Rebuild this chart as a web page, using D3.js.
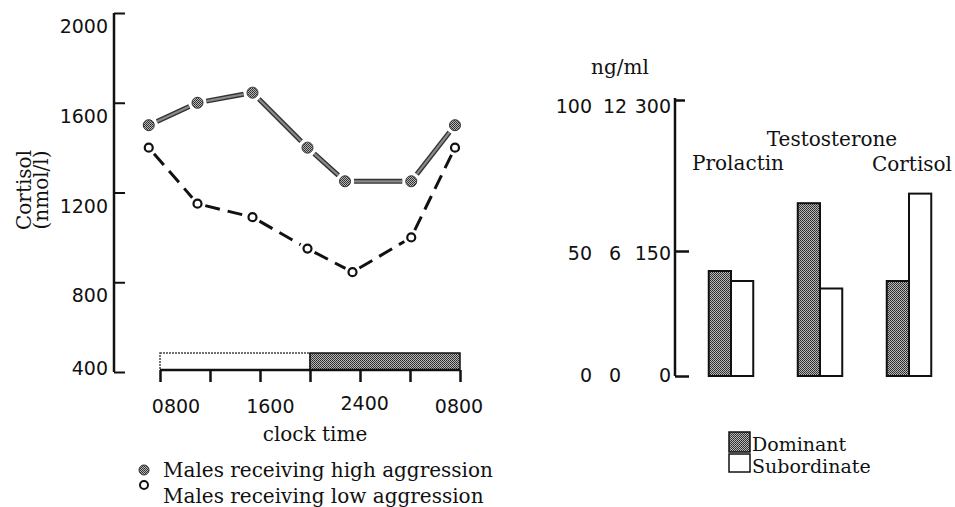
<!DOCTYPE html>
<html lang="en">
<head>
<meta charset="UTF-8">
<title>Cortisol rhythm and hormone levels</title>
<script src="https://cdn.jsdelivr.net/npm/d3@7"></script>
<style>
  body { margin: 0; background: #fff; }
  .serif { font-family: "DejaVu Serif", serif; font-size: 20px; fill: #111; }
  .num { font-family: "DejaVu Sans", sans-serif; font-size: 19px; fill: #111; }
</style>
</head>
<body>
<svg id="chart" width="955" height="507"></svg>
<script>
// left panel: cortisol over the day
const highHours = [7.1, 11, 15.4, 19.8, 22.8, 28.1, 31.6];
const lowHours = [7.1, 11, 15.4, 19.8, 23.4, 28.1, 31.6];
const cortisolHigh = [1500, 1600, 1645, 1400, 1250, 1250, 1500];
const cortisolLow = [1400, 1150, 1090, 950, 845, 1000, 1400];
const cortisolTicks = [400, 800, 1200, 1600, 2000];
const clockTicks = [8, 12, 16, 20, 24, 28, 32];
const clockLabelHours = [8, 16, 24, 32];
const clockLabels = ["0800", "1600", "2400", "0800"];
const lightPeriod = [8, 20];
const darkPeriod = [20, 32];
const seriesNames = ["Males receiving high aggression", "Males receiving low aggression"];

// right panel: hormone levels by status
const hormones = ["Prolactin", "Testosterone", "Cortisol"];
const hormoneMax = [100, 12, 300];
const dominant = [42, 7.9, 114];
const subordinate = [38, 4.2, 207];
const statusNames = ["Dominant", "Subordinate"];
const hormoneTicks = [[0, 50, 100], [0, 6, 12], [0, 150, 300]];

const svg = d3.select("#chart");
const defs = svg.append("defs");

const pat = defs.append("pattern")
  .attr("id", "stipple")
  .attr("patternUnits", "userSpaceOnUse")
  .attr("width", 2).attr("height", 2);
pat.append("rect").attr("width", 2).attr("height", 2).attr("fill", "#b8b8b8");
pat.append("rect").attr("width", 1).attr("height", 1).attr("fill", "#2a2a2a");
pat.append("rect").attr("x", 1).attr("y", 1).attr("width", 1).attr("height", 1).attr("fill", "#3a3a3a");

// ---------- left panel ----------
const x = d3.scaleLinear().domain([8, 32]).range([160, 460]);
const xLab = d3.scaleLinear().domain([8, 32]).range([176, 459]);
const y = d3.scaleLinear().domain([400, 2000]).range([372, 13]);

const yAxis = d3.axisRight(y).tickValues(cortisolTicks).tickSize(11).tickFormat("");
const gy = svg.append("g").attr("transform", "translate(114,0)").call(yAxis);
gy.select(".domain").attr("d", "M0," + y(2000) + "V" + y(400)).attr("stroke", "#111").attr("stroke-width", 2.5);
gy.selectAll(".tick line").attr("stroke", "#111").attr("stroke-width", 2);

svg.append("g").selectAll("text")
  .data(cortisolTicks)
  .join("text")
  .attr("class", "num")
  .attr("x", 108)
  .attr("y", d => y(d) + (d === 400 ? 3 : 20))
  .attr("text-anchor", "end")
  .text(d => d);

svg.append("text").attr("class", "serif")
  .attr("transform", "translate(31,190) rotate(-90)")
  .attr("text-anchor", "middle")
  .text("Cortisol");
svg.append("text").attr("class", "serif")
  .attr("transform", "translate(48,190) rotate(-90)")
  .attr("text-anchor", "middle")
  .text("(nmol/l)");

// light / dark bar
svg.append("rect")
  .attr("x", x(lightPeriod[0])).attr("y", 353)
  .attr("width", x(lightPeriod[1]) - x(lightPeriod[0])).attr("height", 17)
  .attr("fill", "#fff").attr("stroke", "#444").attr("stroke-width", 1.5)
  .attr("stroke-dasharray", "2 1");
svg.append("rect")
  .attr("x", x(darkPeriod[0])).attr("y", 353)
  .attr("width", x(darkPeriod[1]) - x(darkPeriod[0])).attr("height", 17)
  .attr("fill", "url(#stipple)").attr("stroke", "#111").attr("stroke-width", 1.5);

const xAxis = d3.axisBottom(x).tickValues(clockTicks).tickSize(12).tickFormat("");
const gx = svg.append("g").attr("transform", "translate(0,370)").call(xAxis);
gx.select(".domain").attr("d", "M" + x(8) + ",0H" + x(32)).attr("stroke", "#111").attr("stroke-width", 2.5);
gx.selectAll(".tick line").attr("stroke", "#111").attr("stroke-width", 2.5);

svg.append("g").selectAll("text")
  .data(clockLabelHours)
  .join("text")
  .attr("class", "num")
  .attr("x", d => xLab(d))
  .attr("y", (d, i) => i === 2 ? 410 : 413)
  .attr("text-anchor", "middle")
  .text((d, i) => clockLabels[i]);

svg.append("text").attr("class", "serif")
  .attr("x", 315).attr("y", 441)
  .attr("text-anchor", "middle")
  .text("clock time");

function segments(hrs, vals, gap) {
  const pts = hrs.map((h, i) => [x(h), y(vals[i])]);
  const segs = [];
  for (let i = 0; i < pts.length - 1; i++) {
    const [x1, y1] = pts[i], [x2, y2] = pts[i + 1];
    const len = Math.hypot(x2 - x1, y2 - y1);
    const ux = (x2 - x1) / len, uy = (y2 - y1) / len;
    segs.push([x1 + ux * gap, y1 + uy * gap, x2 - ux * gap, y2 - uy * gap]);
  }
  return segs;
}

// low aggression: dashed line, open circles
svg.append("g").selectAll("line")
  .data(segments(lowHours, cortisolLow, 8))
  .join("line")
  .attr("x1", d => d[0]).attr("y1", d => d[1])
  .attr("x2", d => d[2]).attr("y2", d => d[3])
  .attr("stroke", "#111").attr("stroke-width", 3)
  .attr("stroke-dasharray", "15 8");
svg.append("g").selectAll("circle")
  .data(cortisolLow)
  .join("circle")
  .attr("cx", (d, i) => x(lowHours[i])).attr("cy", d => y(d))
  .attr("r", 4).attr("fill", "#fff").attr("stroke", "#111").attr("stroke-width", 2.2);

// high aggression: thick grey line, filled dots
const highSegs = segments(highHours, cortisolHigh, 9);
["#333", "#8a8a8a"].forEach((c, k) => {
  svg.append("g").selectAll("line")
    .data(highSegs)
    .join("line")
    .attr("x1", d => d[0]).attr("y1", d => d[1])
    .attr("x2", d => d[2]).attr("y2", d => d[3])
    .attr("stroke", c).attr("stroke-width", k === 0 ? 5 : 2.2);
});
svg.append("g").selectAll("circle")
  .data(cortisolHigh)
  .join("circle")
  .attr("cx", (d, i) => x(highHours[i])).attr("cy", d => y(d))
  .attr("r", 5.5).attr("fill", "url(#stipple)").attr("stroke", "#333").attr("stroke-width", 1);

// left legend
svg.append("circle").attr("cx", 144).attr("cy", 470).attr("r", 5)
  .attr("fill", "url(#stipple)").attr("stroke", "#333").attr("stroke-width", 1);
svg.append("circle").attr("cx", 144).attr("cy", 485).attr("r", 4)
  .attr("fill", "#fff").attr("stroke", "#111").attr("stroke-width", 2);
svg.append("g").selectAll("text")
  .data(seriesNames)
  .join("text")
  .attr("class", "serif")
  .attr("x", 163)
  .attr("y", (d, i) => 477 + i * 26)
  .text(d => d);

// ---------- right panel ----------
// piecewise scale in cortisol units (the other hormones are rescaled to it)
const yr = d3.scaleLinear().domain([0, 150, 300]).range([376, 251, 100]);
const xb = d3.scaleBand().domain(hormones).range([686.5, 953.5]).paddingInner(0.5).paddingOuter(0.25);
const xs = d3.scaleBand().domain(statusNames).range([0, xb.bandwidth()]);

const rAxis = d3.axisRight(yr).tickValues([0, 150, 300]).tickSize(14).tickFormat("");
const gr = svg.append("g").attr("transform", "translate(675,0)").call(rAxis);
gr.select(".domain").attr("d", "M0,98V" + yr(0)).attr("stroke", "#111").attr("stroke-width", 2.5);
gr.selectAll(".tick line").attr("stroke", "#111").attr("stroke-width", 2.5)
  .attr("x2", d => d === 300 ? 10 : 14);

const colX = [592, 615, 671];
const colAnchor = ["end", "middle", "end"];
hormoneTicks.forEach((ticks, c) => {
  svg.append("g").selectAll("text")
    .data(ticks)
    .join("text")
    .attr("class", "num")
    .attr("x", colX[c])
    .attr("y", (d, i) => yr(d / hormoneMax[c] * 300) + [6, 9, 13][i])
    .attr("text-anchor", colAnchor[c])
    .text(d => d);
});

svg.append("text").attr("class", "serif")
  .attr("x", 620).attr("y", 74)
  .attr("text-anchor", "middle")
  .text("ng/ml");

const barData = [];
hormones.forEach((h, i) => {
  barData.push({ h, s: "Dominant", v: dominant[i] / hormoneMax[i] * 300 });
  barData.push({ h, s: "Subordinate", v: subordinate[i] / hormoneMax[i] * 300 });
});

svg.append("g").selectAll("rect")
  .data(barData)
  .join("rect")
  .attr("x", d => xb(d.h) + xs(d.s))
  .attr("y", d => yr(d.v))
  .attr("width", xs.bandwidth())
  .attr("height", d => yr(0) - yr(d.v))
  .attr("fill", d => d.s === "Dominant" ? "url(#stipple)" : "#fff")
  .attr("stroke", "#111").attr("stroke-width", 2);

const labelY = [170, 146, 171];
const labelDx = [7, 12, 3];
svg.append("g").selectAll("text")
  .data(hormones)
  .join("text")
  .attr("class", "serif")
  .attr("x", (d, i) => xb(d) + xb.bandwidth() / 2 + labelDx[i])
  .attr("y", (d, i) => labelY[i])
  .attr("text-anchor", "middle")
  .text(d => d);

// right legend
const lg = svg.append("g").attr("transform", "translate(729,432)");
lg.selectAll("rect")
  .data(statusNames)
  .join("rect")
  .attr("x", 0).attr("y", (d, i) => i * 22)
  .attr("width", 21).attr("height", (d, i) => i === 0 ? 20 : 18)
  .attr("fill", d => d === "Dominant" ? "url(#stipple)" : "#fff")
  .attr("stroke", "#111").attr("stroke-width", 1.5);
lg.selectAll("text")
  .data(statusNames)
  .join("text")
  .attr("class", "serif")
  .style("font-size", "19px")
  .attr("x", 23).attr("y", (d, i) => 19 + i * 22)
  .text(d => d);
</script>
</body>
</html>
